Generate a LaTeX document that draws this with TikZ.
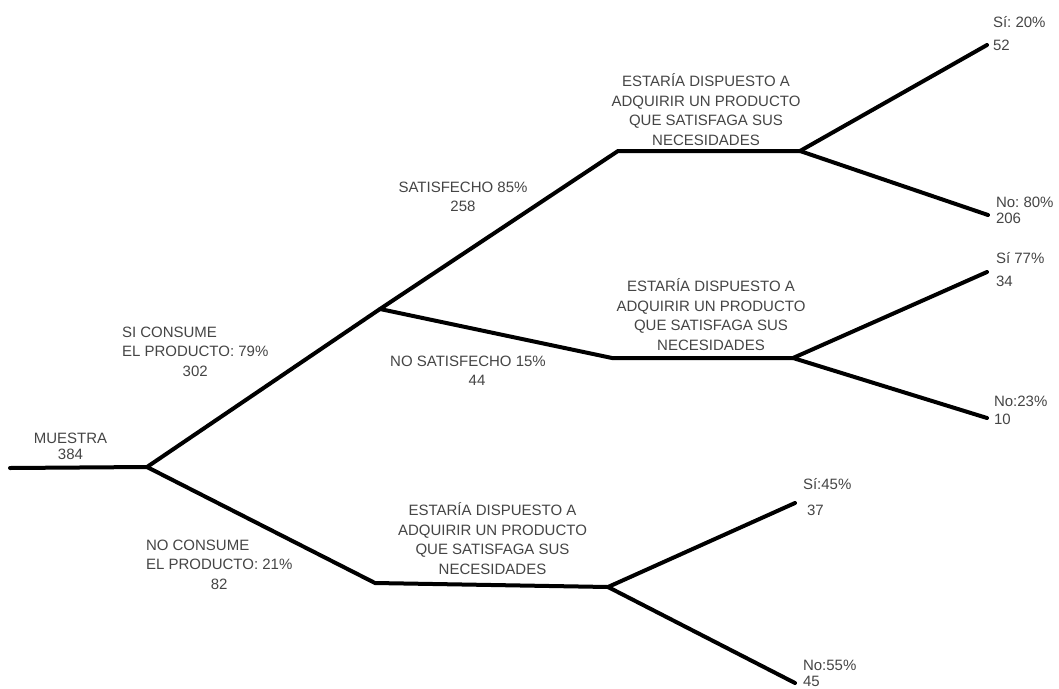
\documentclass[tikz,border=0pt]{standalone}
\usepackage{fontspec}
\setmainfont{Liberation Sans}
\frenchspacing
\definecolor{txt}{HTML}{454545}
\begin{document}
\begin{tikzpicture}[x=1pt,y=-1pt,
  branch/.style={line width=4pt,line cap=round,line join=miter,black},
  lbl/.style={inner sep=0pt,outer sep=0pt,text=txt,font=\fontsize{15}{19.5}\selectfont}]
\useasboundingbox (0,0) rectangle (1059,688);
\fill[white] (0,0) rectangle (1059,688);
% junction points
\coordinate (start) at (10,468);
\coordinate (A) at (147,467);
\coordinate (B) at (380,309);
\coordinate (C) at (375,583);
\coordinate (Dl) at (618,151);
\coordinate (D) at (800,151);
\coordinate (El) at (612,358);
\coordinate (E) at (793,358);
\coordinate (F) at (608,587);
\coordinate (D1) at (987,45);
\coordinate (D2) at (988,215);
\coordinate (E1) at (987,272);
\coordinate (E2) at (987,418);
\coordinate (F1) at (795,503);
\coordinate (F2) at (795,683);
% connectors
\draw[branch] (start) -- (A);
\draw[branch] (A) -- (B) -- (Dl) -- (D);
\draw[branch] (B) -- (El) -- (E);
\draw[branch] (A) -- (C) -- (F);
\draw[branch] (D) -- (D1);
\draw[branch] (D) -- (D2);
\draw[branch] (E) -- (E1);
\draw[branch] (E) -- (E2);
\draw[branch] (F) -- (F1);
\draw[branch] (F) -- (F2);
% labels
\node[lbl,anchor=base] (muestra) at (70.5,443) {\begin{tabular}[t]{@{}c@{}}MUESTRA\\[-3.5pt]384\end{tabular}};
\node[lbl,anchor=base west] (si) at (122,337.4) {\begin{tabular}[t]{@{}l@{}}SI CONSUME\\EL PRODUCTO: 79\%\\\multicolumn{1}{@{}c@{}}{302\hspace{15pt}}\end{tabular}};
\node[lbl,anchor=base west] (no) at (146,550.4) {\begin{tabular}[t]{@{}l@{}}NO CONSUME\\EL PRODUCTO: 21\%\\\multicolumn{1}{@{}c@{}}{82}\end{tabular}};
\node[lbl,anchor=base] (sat) at (463,192.4) {\begin{tabular}[t]{@{}c@{}}SATISFECHO 85\%\\258\end{tabular}};
\node[lbl,anchor=base] (nosat) at (468,366.4) {\begin{tabular}[t]{@{}c@{}}NO SATISFECHO 15\%\\\hspace{18pt}44\end{tabular}};
\node[lbl,anchor=base] (q1) at (706,86.9) {\begin{tabular}[t]{@{}c@{}}ESTARÍA DISPUESTO A\\ADQUIRIR UN PRODUCTO\\QUE SATISFAGA SUS\\NECESIDADES\end{tabular}};
\node[lbl,anchor=base] (q2) at (711,291.9) {\begin{tabular}[t]{@{}c@{}}ESTARÍA DISPUESTO A\\ADQUIRIR UN PRODUCTO\\QUE SATISFAGA SUS\\NECESIDADES\end{tabular}};
\node[lbl,anchor=base] (q3) at (492.5,515.9) {\begin{tabular}[t]{@{}c@{}}ESTARÍA DISPUESTO A\\ADQUIRIR UN PRODUCTO\\QUE SATISFAGA SUS\\NECESIDADES\end{tabular}};
% leaves
\node[lbl,anchor=base west] (l1) at (993,27.4) {\begin{tabular}[t]{@{}l@{}}Sí: 20\%\\[3.5pt]52\end{tabular}};
\node[lbl,anchor=base west] (l2) at (996,207.4) {\begin{tabular}[t]{@{}l@{}}No: 80\%\\[-3.5pt]206\end{tabular}};
\node[lbl,anchor=base west] (l3) at (996,263.4) {\begin{tabular}[t]{@{}l@{}}Sí 77\%\\[3.5pt]34\end{tabular}};
\node[lbl,anchor=base west] (l4) at (994,406.4) {\begin{tabular}[t]{@{}l@{}}No:23\%\\[-1.5pt]10\end{tabular}};
\node[lbl,anchor=base west] (l5) at (803,489) {\begin{tabular}[t]{@{}l@{}}Sí:45\%\\[6.5pt]\hspace{4pt}37\end{tabular}};
\node[lbl,anchor=base west] (l6) at (803,670.4) {\begin{tabular}[t]{@{}l@{}}No:55\%\\[-3pt]45\end{tabular}};
\end{tikzpicture}
\end{document}
